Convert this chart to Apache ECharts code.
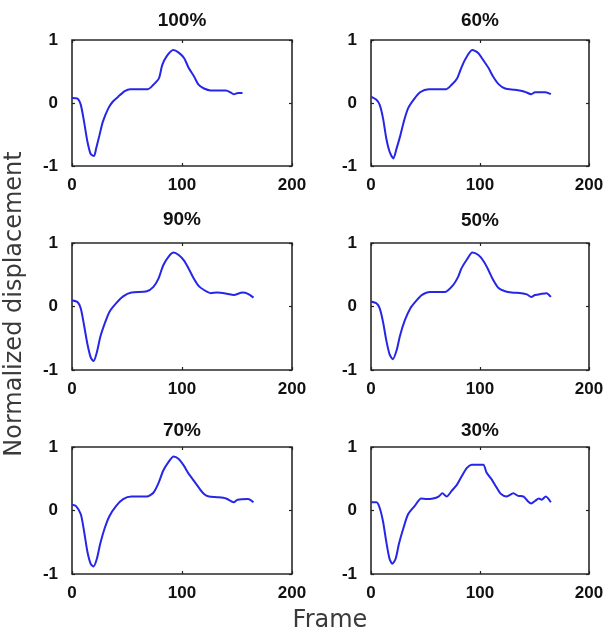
<!DOCTYPE html>
<html>
<head>
<meta charset="utf-8">
<script src="https://cdn.jsdelivr.net/npm/echarts@6/dist/echarts.min.js"></script>
<style>
html,body{margin:0;padding:0;background:#fff;}
#chart{width:609px;height:639px;}
</style>
</head>
<body>
<div id="chart"></div>
<script>
// ---- data (frame, normalized displacement) ----
const panelTitles = ['100%', '60%', '90%', '50%', '70%', '30%'];
const xTicks = [0, 100, 200];
const yTicks = [-1, 0, 1];
const xAxisName = 'Frame';
const yAxisName = 'Normalized displacement';

const curve100 = [[0,0.08],[5,0.07],[8,-0.03],[11,-0.30],[14,-0.61],[17,-0.81],[20,-0.84],[22,-0.72],[25,-0.51],[28,-0.30],[33,-0.085],[37,0.02],[42,0.10],[48,0.19],[53,0.22],[69,0.22],[74,0.29],[79,0.39],[82,0.60],[86,0.74],[92,0.84],[97,0.80],[102,0.71],[106,0.56],[111,0.42],[115,0.29],[120,0.23],[126,0.20],[140,0.20],[144,0.17],[147,0.14],[151,0.16],[155,0.16]];
const curve60 = [[0,0.10],[5,0.05],[8,-0.03],[11,-0.24],[14,-0.56],[17,-0.77],[20.5,-0.88],[23.5,-0.72],[27,-0.51],[30,-0.30],[34,-0.085],[39,0.05],[45,0.17],[53,0.22],[69,0.22],[74,0.29],[79,0.39],[82,0.52],[86,0.68],[93,0.84],[98.5,0.79],[103,0.68],[108,0.55],[112,0.42],[117,0.30],[123,0.23],[132,0.21],[141,0.18],[147,0.14],[150.5,0.17],[160,0.17],[165,0.14]];
const curve90 = [[0,0.10],[5,0.07],[8,-0.03],[11,-0.30],[14,-0.59],[17,-0.80],[19.6,-0.86],[22.6,-0.72],[25.7,-0.48],[29.7,-0.27],[34,-0.085],[40,0.05],[46.5,0.16],[54,0.22],[68,0.24],[74,0.31],[78.6,0.44],[83,0.65],[88,0.79],[92.4,0.85],[97,0.81],[101.5,0.73],[106,0.60],[110.7,0.44],[115.3,0.32],[120,0.26],[126,0.21],[132,0.22],[141,0.20],[147,0.18],[155,0.22],[160,0.20],[165,0.14]];
const curve50 = [[0,0.08],[5,0.05],[8,-0.03],[11,-0.24],[14,-0.53],[17,-0.75],[20,-0.83],[23.5,-0.69],[26.6,-0.46],[31,-0.22],[36,-0.03],[42,0.10],[46.5,0.18],[54,0.23],[68,0.23],[75.5,0.34],[80,0.47],[83,0.60],[88,0.74],[93,0.85],[98.5,0.81],[103,0.72],[107.6,0.58],[112,0.42],[117,0.29],[123,0.24],[129,0.22],[138,0.21],[143,0.19],[147,0.15],[150.5,0.18],[156.6,0.20],[161,0.21],[165,0.15]];
const curve70 = [[0,0.09],[3.7,0.07],[8,-0.06],[11,-0.33],[14,-0.65],[17,-0.84],[19.6,-0.88],[22.6,-0.76],[25.7,-0.52],[29.7,-0.28],[34,-0.09],[40,0.07],[46.5,0.18],[54,0.22],[68,0.22],[74,0.28],[78.6,0.43],[83,0.63],[88,0.77],[92.4,0.85],[97,0.81],[101.5,0.71],[106,0.58],[110.7,0.47],[115.3,0.36],[120,0.26],[124.5,0.22],[132,0.21],[140,0.19],[147,0.13],[150.5,0.17],[160,0.18],[165,0.13]];
const curve30 = [[0,0.13],[5,0.13],[8,0.04],[11,-0.17],[14,-0.49],[17,-0.76],[19.6,-0.84],[22.6,-0.76],[25.7,-0.52],[29.7,-0.28],[34,-0.06],[40,0.07],[46,0.19],[51,0.18],[57,0.19],[62,0.22],[65.5,0.27],[69.4,0.22],[74,0.31],[78.6,0.40],[82.6,0.52],[88,0.67],[92.4,0.72],[97,0.72],[103,0.72],[106,0.60],[110.7,0.49],[115.3,0.36],[119.3,0.26],[124.5,0.22],[130.6,0.27],[135,0.23],[140,0.22],[143.7,0.15],[147,0.11],[150.5,0.15],[154,0.19],[156.6,0.17],[160.3,0.22],[165,0.13]];

const curves = [curve100, curve60, curve90, curve50, curve70, curve30];

// ---- layout ----
const grids = [
  {left: 72,  top: 40,  width: 220, height: 126},
  {left: 371, top: 40,  width: 218, height: 126},
  {left: 72,  top: 243, width: 220, height: 127},
  {left: 371, top: 243, width: 218, height: 127},
  {left: 72,  top: 447, width: 220, height: 127},
  {left: 371, top: 447, width: 218, height: 127}
];
const titleY = [21, 21, 220, 221, 431, 431];

const tickFont = {color: '#111', fontSize: 17, fontWeight: 'bold', fontFamily: 'Liberation Sans, Arial, sans-serif'};
const xMin = xTicks[0], xMax = xTicks[xTicks.length - 1], xStep = xTicks[1] - xTicks[0];
const yMin = yTicks[0], yMax = yTicks[yTicks.length - 1], yStep = yTicks[1] - yTicks[0];

const option = {
  backgroundColor: '#fff',
  animation: false,
  grid: [], xAxis: [], yAxis: [], series: [], graphic: []
};

const tickStyle = {show: true, inside: true, length: 3, lineStyle: {color: '#222', width: 1.2}};

grids.forEach((g, i) => {
  option.grid.push(Object.assign({show: true, borderColor: '#2a2a2a', borderWidth: 1.6, backgroundColor: '#fff'}, g));
  const common = {type: 'value', gridIndex: i, splitLine: {show: false}, axisLine: {show: false, onZero: false}};
  option.xAxis.push(Object.assign({}, common, {
    position: 'bottom', min: xMin, max: xMax, interval: xStep,
    axisTick: tickStyle,
    axisLabel: Object.assign({margin: 11, showMinLabel: true, showMaxLabel: true}, tickFont)
  }));
  option.xAxis.push(Object.assign({}, common, {
    position: 'top', min: xMin, max: xMax, interval: xStep,
    axisTick: tickStyle,
    axisLabel: {show: false}
  }));
  option.yAxis.push(Object.assign({}, common, {
    position: 'left', min: yMin, max: yMax, interval: yStep,
    axisTick: tickStyle,
    axisLabel: Object.assign({margin: 14, showMinLabel: true, showMaxLabel: true}, tickFont)
  }));
  option.yAxis.push(Object.assign({}, common, {
    position: 'right', min: yMin, max: yMax, interval: yStep,
    axisTick: tickStyle,
    axisLabel: {show: false}
  }));
  option.series.push({
    type: 'line', xAxisIndex: i * 2, yAxisIndex: i * 2, data: curves[i],
    showSymbol: false, symbol: 'none', smooth: 0.25,
    lineStyle: {color: '#2626e6', width: 2}, z: 3
  });
  option.graphic.push({
    type: 'text', x: g.left + g.width / 2, y: titleY[i], silent: true,
    style: {text: panelTitles[i], textAlign: 'center', textVerticalAlign: 'middle',
      fill: '#111', font: 'bold 19px "Liberation Sans", Arial, sans-serif'}
  });
});

option.graphic.push({
  type: 'text', x: 15, y: 304, rotation: Math.PI / 2, silent: true,
  style: {text: yAxisName, textAlign: 'center', textVerticalAlign: 'middle',
    fill: '#3a3a3a', font: '24px "DejaVu Sans", sans-serif'}
});
option.graphic.push({
  type: 'text', x: 330, y: 621, silent: true,
  style: {text: xAxisName, textAlign: 'center', textVerticalAlign: 'middle',
    fill: '#3a3a3a', font: '24px "DejaVu Sans", sans-serif'}
});

const chart = echarts.init(document.getElementById('chart'), null, {renderer: 'canvas'});
chart.setOption(option);
</script>
</body>
</html>
